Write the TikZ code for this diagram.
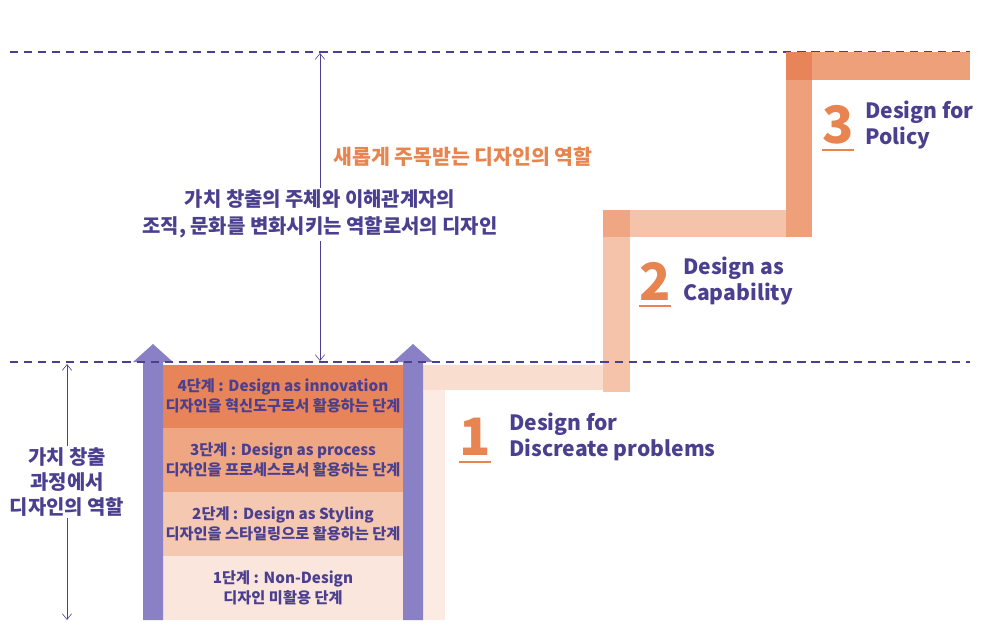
\documentclass[tikz,border=0pt]{standalone}
\usepackage{fontspec}
\setmainfont{Noto Sans CJK KR}
\usetikzlibrary{arrows.meta}
\definecolor{pur}{HTML}{4B3F8F}
\definecolor{arr}{HTML}{8A80C6}
\definecolor{oA}{HTML}{E8845A}
\definecolor{oB}{HTML}{EFA783}
\definecolor{oC}{HTML}{F5C8B1}
\definecolor{oD}{HTML}{FAE6DC}
\definecolor{num}{HTML}{E8844F}
\tikzset{
 band/.style={text=pur,font=\bfseries\fontsize{13}{17}\selectfont,align=center},
 lbl/.style={text=pur,font=\bfseries\fontsize{18}{22}\selectfont,align=left,anchor=west},
 big/.style={text=num,font=\bfseries\fontsize{44}{44}\selectfont},
 dline/.style={pur,dashed,dash pattern=on 7pt off 5pt,line width=1.1pt}
}
\begin{document}
\begin{tikzpicture}[x=0.03cm,y=-0.03cm]
\useasboundingbox (0,0) rectangle (986,636);
\draw[dline] (10,52) -- (970,52);
\fill[oD!80!white] (420,365) rectangle (445,620);
\fill[oD!70!oC] (420,365) rectangle (630,390);
\fill[oC!85!oB] (603,210) rectangle (630,392);
\fill[oC!85!oB] (603,210) rectangle (812,237);
\fill[oB] (603,210) rectangle (630,237);
\fill[oB!80!oA] (786,52) rectangle (812,237);
\fill[oB!80!oA] (786,52) rectangle (970,80);
\fill[oA] (786,52) rectangle (812,80);
\fill[oA] (163,365) rectangle (403,428);
\fill[oB] (163,428) rectangle (403,492);
\fill[oC] (163,492) rectangle (403,556);
\fill[oD] (163,556) rectangle (403,620);
\node[band] (b4) at (283,396) {4단계 : Design as innovation\\디자인을 혁신도구로서 활용하는 단계};
\node[band] (b3) at (283,460) {3단계 : Design as process\\디자인을 프로세스로서 활용하는 단계};
\node[band] (b2) at (283,524) {2단계 : Design as Styling\\디자인을 스타일링으로 활용하는 단계};
\node[band] (b1) at (283,588) {1단계 : Non-Design\\디자인 미활용 단계};
\fill[arr] (143,620) -- (143,362) -- (133,362) -- (153,344) -- (173,362) -- (163,362) -- (163,620) -- cycle;
\fill[arr] (403,620) -- (403,362) -- (393,362) -- (413,344) -- (433,362) -- (423,362) -- (423,620) -- cycle;
\draw[dline] (10,362) -- (970,362);
\coordinate (t1) at (320,53); \coordinate (t2) at (320,361);
\draw[pur,line width=0.5pt,{Straight Barb[length=5pt,width=8pt]}-{Straight Barb[length=5pt,width=8pt]}] (t1) -- (t2);
\coordinate (l1) at (67,364); \coordinate (l2) at (67,620);
\draw[pur,line width=0.5pt,{Straight Barb[length=5pt,width=8pt]}-{Straight Barb[length=5pt,width=8pt]}] (l1) -- (l2);
\node[text=num,font=\bfseries\fontsize{17.5}{20}\selectfont] (new) at (463,157) {새롭게 주목받는 디자인의 역할};
\node[text=pur,font=\bfseries\fontsize{17}{23}\selectfont,align=center,fill=white,inner sep=2pt] (mid) at (320,214) {가치 창출의 주체와 이해관계자의\\조직, 문화를 변화시키는 역할로서의 디자인};
\node[text=pur,font=\bfseries\fontsize{17}{21}\selectfont,align=center,fill=white,inner sep=2pt] (left) at (67,482) {가치 창출\\과정에서\\디자인의 역할};
\node[big] (n1) at (475,437) {1};
\draw[num,line width=2pt] (459,462) -- (491,462);
\node[lbl] (d1) at (505,437) {Design for\\Discreate problems};
\node[big] (n2) at (655,281) {2};
\draw[num,line width=2pt] (639,306) -- (671,306);
\node[lbl] (d2) at (679,281) {Design as\\Capability};
\node[big] (n3) at (838,125) {3};
\draw[num,line width=2pt] (822,150) -- (854,150);
\node[lbl] (d3) at (861,125) {Design for\\Policy};
\end{tikzpicture}
\end{document}
